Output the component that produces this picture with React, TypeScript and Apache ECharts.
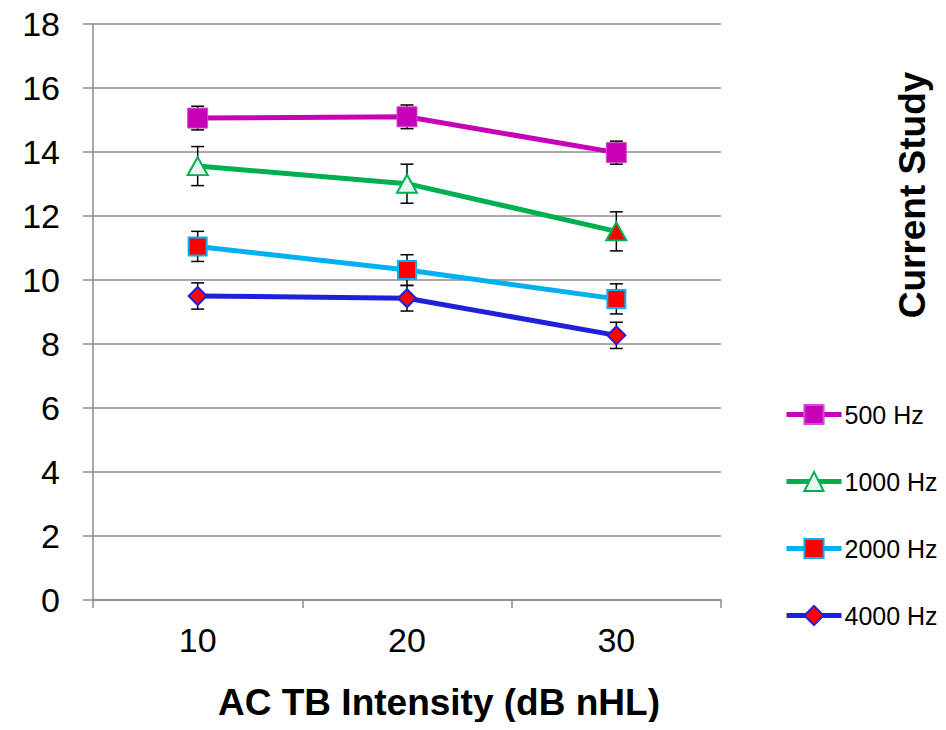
import React, { useEffect, useRef } from "react";
import * as echarts from "echarts";

const categories = ["10", "20", "30"];
const hz500 = [15.06, 15.1, 13.98];
const hz500Err = [0.37, 0.37, 0.36];
const hz1000 = [13.56, 13.01, 11.52];
const hz1000Err = [0.61, 0.61, 0.61];
const hz2000 = [11.05, 10.31, 9.41];
const hz2000Err = [0.47, 0.48, 0.47];
const hz4000 = [9.5, 9.43, 8.27];
const hz4000Err = [0.41, 0.4, 0.41];
const yTicks = { min: 0, max: 18, interval: 2 };

const FONT = "Liberation Sans, Arial, sans-serif";

function errData(vals: number[], errs: number[]) {
  return vals.map((v, i) => [i, v - errs[i], v + errs[i]]);
}

const errorSeries = (name: string, vals: number[], errs: number[]) => ({
  type: "custom",
  name: name + " err",
  z: 1,
  silent: true,
  data: errData(vals, errs),
  renderItem: (params: any, api: any) => {
    const x = api.value(0);
    const lo = api.coord([x, api.value(1)]);
    const hi = api.coord([x, api.value(2)]);
    const half = 6.5;
    const style = { stroke: "#000", lineWidth: 1.5 };
    return {
      type: "group",
      children: [
        { type: "line", shape: { x1: lo[0], y1: lo[1], x2: hi[0], y2: hi[1] }, style },
        { type: "line", shape: { x1: lo[0] - half, y1: lo[1], x2: lo[0] + half, y2: lo[1] }, style },
        { type: "line", shape: { x1: hi[0] - half, y1: hi[1], x2: hi[0] + half, y2: hi[1] }, style },
      ],
    };
  },
});

export default function App() {
  const ref = useRef<HTMLDivElement>(null);
  useEffect(() => {
    const chart = echarts.init(ref.current!, null, { renderer: "svg" });
    chart.setOption({
      animation: false,
      textStyle: { fontFamily: FONT },
      grid: { left: 93, right: 225, top: 24, bottom: 130 },
      xAxis: {
        type: "category",
        data: categories,
        boundaryGap: true,
        axisLine: { lineStyle: { color: "#8c8c8c", width: 1.5 } },
        axisTick: { show: true, length: 8, alignWithLabel: false, lineStyle: { color: "#8c8c8c", width: 1.5 } },
        axisLabel: { fontSize: 34, color: "#000", margin: 23, fontFamily: FONT },
      },
      yAxis: {
        type: "value",
        min: yTicks.min,
        max: yTicks.max,
        interval: yTicks.interval,
        axisLine: { show: true, lineStyle: { color: "#8c8c8c", width: 1.5 } },
        axisTick: { show: true, length: 10, lineStyle: { color: "#8c8c8c", width: 1.5 } },
        splitLine: { show: true, lineStyle: { color: "#8c8c8c", width: 1.5 } },
        axisLabel: { fontSize: 34, color: "#000", margin: 33, fontFamily: FONT },
      },
      legend: {
        orient: "vertical",
        left: 779,
        top: 397,
        itemWidth: 55,
        itemHeight: 24,
        itemGap: 42,
        lineStyle: { width: 5 },
        textStyle: { fontSize: 25, color: "#000", fontFamily: FONT, padding: [0, 0, 0, -2] },
        data: ["500 Hz", "1000 Hz", "2000 Hz", "4000 Hz"],
      },
      graphic: [
        {
          type: "text",
          x: 439,
          y: 702,
          style: {
            text: "AC TB Intensity (dB nHL)",
            font: "bold 37px " + FONT,
            fill: "#000",
            textAlign: "center",
            textVerticalAlign: "middle",
          },
        },
        {
          type: "text",
          x: 912,
          y: 195,
          rotation: Math.PI / 2,
          style: {
            text: "Current Study",
            font: "bold 37px " + FONT,
            fill: "#000",
            textAlign: "center",
            textVerticalAlign: "middle",
          },
        },
      ],
      series: [
        errorSeries("500 Hz", hz500, hz500Err),
        errorSeries("1000 Hz", hz1000, hz1000Err),
        errorSeries("2000 Hz", hz2000, hz2000Err),
        errorSeries("4000 Hz", hz4000, hz4000Err),
        {
          type: "line",
          name: "500 Hz",
          z: 3,
          data: hz500,
          symbol: "rect",
          symbolSize: 20,
          lineStyle: { color: "#C800B8", width: 5 },
          itemStyle: { color: "#C800B8", borderColor: "#D24FCB", borderWidth: 1 },
        },
        {
          type: "line",
          name: "1000 Hz",
          z: 3,
          data: hz1000.map((v, i) =>
            i === 2 ? { value: v, itemStyle: { color: "#FF0000" } } : v
          ),
          symbol: "triangle",
          symbolSize: [20, 18],
          lineStyle: { color: "#00B050", width: 5 },
          itemStyle: { color: "#E8F4F0", borderColor: "#00B050", borderWidth: 2 },
        },
        {
          type: "line",
          name: "2000 Hz",
          z: 3,
          data: hz2000,
          symbol: "rect",
          symbolSize: 18,
          lineStyle: { color: "#00B0F0", width: 5 },
          itemStyle: { color: "#FF0000", borderColor: "#00B0F0", borderWidth: 2 },
        },
        {
          type: "line",
          name: "4000 Hz",
          z: 3,
          data: hz4000,
          symbol: "diamond",
          symbolSize: 18,
          lineStyle: { color: "#2020DC", width: 5 },
          itemStyle: { color: "#FF0000", borderColor: "#2020DC", borderWidth: 2 },
        },
      ],
    });
    return () => chart.dispose();
  }, []);
  return <div ref={ref} style={{ width: 946, height: 730, margin: -8 }} />;
}
